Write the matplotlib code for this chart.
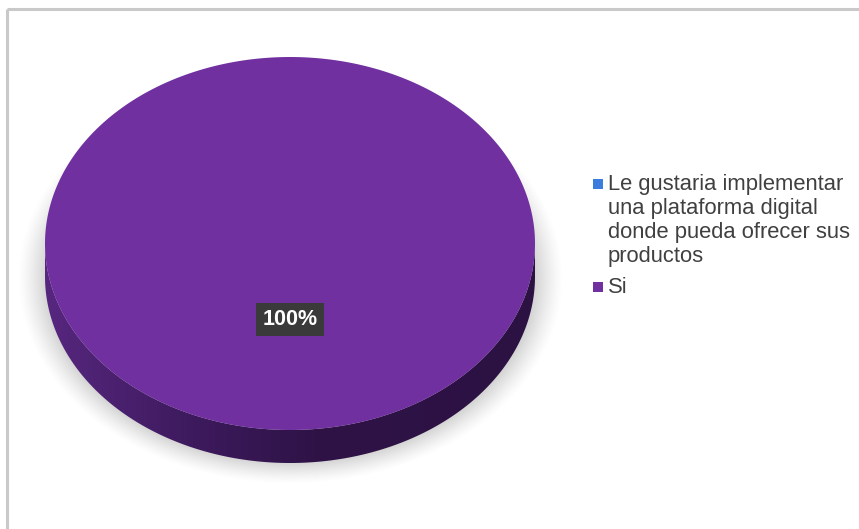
import numpy as np
import matplotlib
matplotlib.use("Agg")
import matplotlib.pyplot as plt
from matplotlib.patches import Polygon, Rectangle
from matplotlib.colors import LinearSegmentedColormap

plt.rcParams["font.family"] = ["Liberation Sans", "DejaVu Sans"]

# survey answers
categories = ["Le gustaria implementar\nuna plataforma digital\ndonde pueda ofrecer sus\nproductos", "Si"]
values = [0, 100]
colors = ["#3B7DDD", "#7030A0"]

W, H = 859, 529
fig = plt.figure(figsize=(W / 100, H / 100), dpi=100)
ax = fig.add_axes([0, 0, 1, 1])
ax.axis("off")

# frame lines on top and left
ax.plot([6.5, W], [8.5, 8.5], color="#c9c9c9", lw=2.2, solid_capstyle="butt")
ax.plot([6.5, 6.5], [8.5, H], color="#c9c9c9", lw=2.2, solid_capstyle="butt")

# pie geometry (pixel units)
cx, cy = 290, 243.5
a, b = 245, 186.5
depth = 33

# soft drop shadow under the disc
X, Y = np.meshgrid(np.arange(W), np.arange(H))
r = np.sqrt(((X - cx) / (a + 10)) ** 2 + ((Y - (cy + 34)) / (b + 6)) ** 2)
alpha = 0.42 * np.clip((1.07 - r) / 0.12, 0, 1) ** 1.3
shadow = np.zeros((H, W, 4))
shadow[..., :3] = 0.55
shadow[..., 3] = alpha
ax.imshow(shadow, extent=(0, W, H, 0), zorder=1, interpolation="bilinear")

total = float(sum(values))
fracs = [v / total for v in values]

side_cmap = LinearSegmentedColormap.from_list(
    "side", [(0, "#57277f"), (0.3, "#3d1a5d"), (0.55, "#2f1347"), (1, "#2c1143")])

# wedges go clockwise from 12 o'clock
start = 90.0
for frac, col in zip(fracs, colors):
    if frac <= 0:
        continue
    end = start - frac * 360.0
    # visible front rim: angles between 180 and 360 (i.e. -180..0)
    lo, hi = max(end, -180.0), min(start, 0.0)
    if hi > lo:
        th = np.radians(np.linspace(lo, hi, 200))
        top = np.column_stack([cx + a * np.cos(th), cy - b * np.sin(th)])
        bot = top[::-1] + [0, depth]
        rim = Polygon(np.vstack([top, bot]), closed=True, facecolor="none", edgecolor="none", zorder=2)
        ax.add_patch(rim)
        grad = np.linspace(0, 1, 256).reshape(1, -1)
        im = ax.imshow(grad, cmap=side_cmap, aspect="auto",
                       extent=(cx - a, cx + a, cy + b + depth, cy - 5), zorder=2)
        im.set_clip_path(rim)
    th = np.radians(np.linspace(end, start, 400))
    face = np.column_stack([cx + a * np.cos(th), cy - b * np.sin(th)])
    if frac < 1:
        face = np.vstack([[cx, cy], face])
    ax.add_patch(Polygon(face, closed=True, facecolor=col, edgecolor="none", zorder=3))

    # data label at the middle of the slice
    mid = np.radians((start + end) / 2)
    lx, ly = cx + 0.41 * a * np.cos(mid), cy - 0.41 * b * np.sin(mid)
    ax.text(lx, ly, f"{frac * 100:.0f}%", ha="center", va="center", color="white",
            fontsize=15.5, fontweight="bold", zorder=5,
            bbox=dict(boxstyle="square,pad=0.28", facecolor="#3a3a3a", edgecolor="none"))
    start = end

ax.set_xlim(0, W)
ax.set_ylim(H, 0)

# legend, one text per wrapped line
legend_y = [190, 293]
for lab, col, yb in zip(categories, colors, legend_y):
    ax.add_patch(Rectangle((592.5, yb - 11), 10, 10, facecolor=col, edgecolor="none", zorder=4))
    for i, line in enumerate(lab.split("\n")):
        ax.text(608, yb + i * 24, line, ha="left", va="baseline", fontsize=15.8,
                color="#404040", zorder=4)

fig.savefig("out.png", dpi=100)
